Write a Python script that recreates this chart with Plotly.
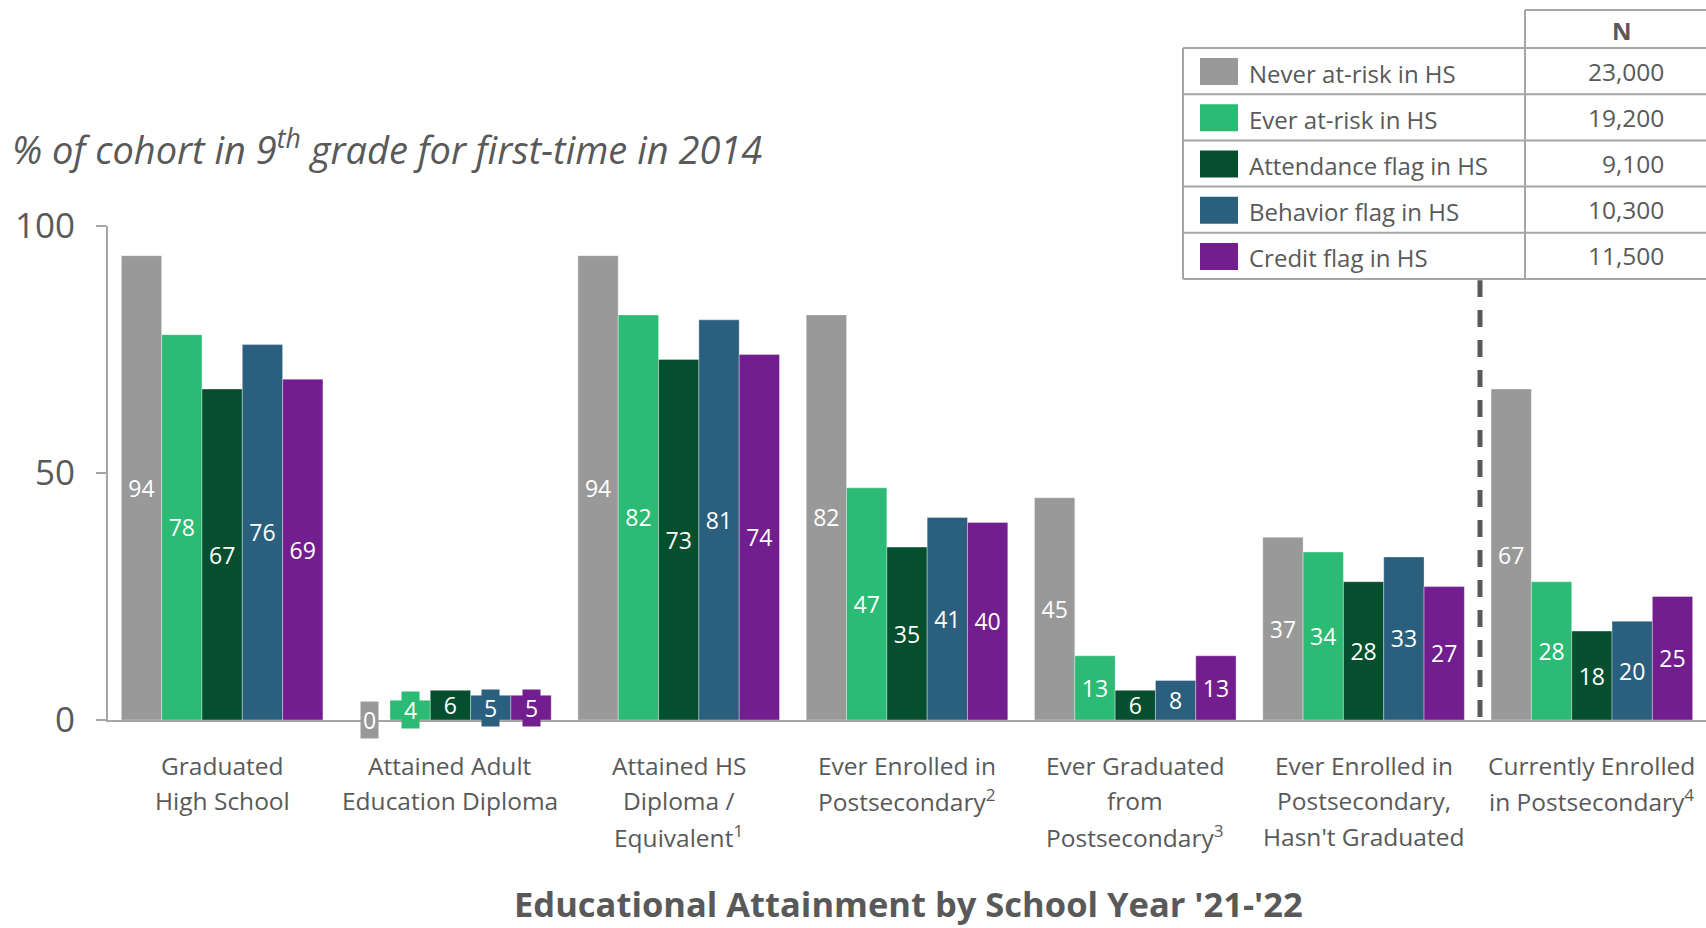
import plotly.graph_objects as go

# ---- data -------------------------------------------------------------
categories = [
    "Graduated<br>High School",
    "Attained Adult<br>Education Diploma",
    "Attained HS<br>Diploma /<br>Equivalent<sup>1</sup>",
    "Ever Enrolled in<br>Postsecondary<sup>2</sup>",
    "Ever Graduated<br>from<br>Postsecondary<sup>3</sup>",
    "Ever Enrolled in<br>Postsecondary,<br>Hasn't Graduated",
    "Currently Enrolled<br>in Postsecondary<sup>4</sup>",
]

series_names = [
    "Never at-risk in HS",
    "Ever at-risk in HS",
    "Attendance flag in HS",
    "Behavior flag in HS",
    "Credit flag in HS",
]

never_at_risk = [94, 0, 94, 82, 45, 37, 67]
ever_at_risk = [78, 4, 82, 47, 13, 34, 28]
attendance_flag = [67, 6, 73, 35, 6, 28, 18]
behavior_flag = [76, 5, 81, 41, 8, 33, 20]
credit_flag = [69, 5, 74, 40, 13, 27, 25]

series_n = ["23,000", "19,200", "9,100", "10,300", "11,500"]

y_ticks = [0, 50, 100]

colors = ["#999999", "#2bbb74", "#064f2e", "#2a5f7e", "#731e8e"]

# ---- layout constants -------------------------------------------------
W, H = 1706, 928
ML, MR, MT, MB = 108, 0, 226, 208
PLOT_W = W - ML - MR
PLOT_H = H - MT - MB

FONT = "Open Sans"
TEXT = "#595959"
GRID = "#a6a6a6"
BARGAP = 0.117


def px_x(px):
    return (px - ML) / PLOT_W


def px_y(py):
    return (H - MB - py) / PLOT_H


fig = go.Figure()

all_series = [never_at_risk, ever_at_risk, attendance_flag, behavior_flag, credit_flag]
n_series = len(all_series)
bar_w = (1 - BARGAP) / n_series
xs = list(range(len(categories)))

annotations = []
for i, (name, vals, color) in enumerate(zip(series_names, all_series, colors)):
    # very short bars carry their label in a coloured box instead
    fig.add_bar(
        x=xs,
        y=vals,
        name=name,
        marker=dict(color=color, line=dict(width=1, color="rgba(255,255,255,0.35)")),
        text=[str(v) if v > 5 else None for v in vals],
        textposition="inside",
        insidetextanchor="middle",
        textangle=0,
        textfont=dict(color="white", size=23, family=FONT),
        showlegend=False,
        hoverinfo="skip",
    )
    for j, v in enumerate(vals):
        if v <= 5:
            annotations.append(dict(
                x=j + (i - (n_series - 1) / 2) * bar_w,
                y=v / 2,
                xref="x", yref="y",
                text=str(v),
                showarrow=False,
                font=dict(color="white", size=23, family=FONT),
                bgcolor=color,
                borderpad=2,
            ))

# category labels, one line at a time for even line spacing
LINE_Y0, LINE_DY = 765, 35.5
for j, label in enumerate(categories):
    for k, line in enumerate(label.split("<br>")):
        annotations.append(dict(
            x=j, y=px_y(LINE_Y0 + k * LINE_DY), xref="x", yref="paper",
            text=line, showarrow=False, xanchor="center", yanchor="middle",
            font=dict(color=TEXT, size=24.5, family=FONT),
        ))

shapes = []

# dashed separator before the last category
shapes.append(dict(
    type="line", xref="x", yref="y",
    x0=5.51, x1=5.51, y0=0.6, y1=89,
    line=dict(color=TEXT, width=5, dash="17px,13px"),
))

# ---- legend table -----------------------------------------------------
T_LEFT, T_DIV, T_RIGHT = 1183, 1525, W
ROW_TOP, ROW_H = 48, 46.2
HEAD_TOP = 10
n_rows = len(series_names)

for r in range(n_rows + 1):
    y = ROW_TOP + r * ROW_H
    shapes.append(dict(type="line", xref="paper", yref="paper",
                       x0=px_x(T_LEFT), x1=px_x(T_RIGHT), y0=px_y(y), y1=px_y(y),
                       line=dict(color=GRID, width=2)))
shapes.append(dict(type="line", xref="paper", yref="paper",
                   x0=px_x(T_DIV), x1=px_x(T_RIGHT), y0=px_y(HEAD_TOP), y1=px_y(HEAD_TOP),
                   line=dict(color=GRID, width=2)))
shapes.append(dict(type="line", xref="paper", yref="paper",
                   x0=px_x(T_LEFT), x1=px_x(T_LEFT),
                   y0=px_y(ROW_TOP), y1=px_y(ROW_TOP + n_rows * ROW_H),
                   line=dict(color=GRID, width=2)))
shapes.append(dict(type="line", xref="paper", yref="paper",
                   x0=px_x(T_DIV), x1=px_x(T_DIV),
                   y0=px_y(HEAD_TOP), y1=px_y(ROW_TOP + n_rows * ROW_H),
                   line=dict(color=GRID, width=2)))

annotations.append(dict(
    x=px_x((T_DIV + 1718) / 2), y=px_y(30), xref="paper", yref="paper",
    text="<b>N</b>", showarrow=False, xanchor="center", yanchor="middle",
    font=dict(color=TEXT, size=24, family=FONT),
))

for r, (name, n, color) in enumerate(zip(series_names, series_n, colors)):
    cy = ROW_TOP + (r + 0.5) * ROW_H
    shapes.append(dict(type="rect", xref="paper", yref="paper",
                       x0=px_x(1200), x1=px_x(1238),
                       y0=px_y(cy - 13), y1=px_y(cy + 14),
                       fillcolor=color, line=dict(width=0)))
    annotations.append(dict(
        x=px_x(1247), y=px_y(cy + 2), xref="paper", yref="paper",
        text=name, showarrow=False, xanchor="left", yanchor="middle",
        font=dict(color=TEXT, size=24, family=FONT),
    ))
    annotations.append(dict(
        x=px_x(1666), y=px_y(cy), xref="paper", yref="paper",
        text=n, showarrow=False, xanchor="right", yanchor="middle",
        font=dict(color=TEXT, size=24.5, family=FONT),
    ))

# ---- axis caption and title -------------------------------------------
annotations.append(dict(
    x=px_x(10), y=px_y(148), xref="paper", yref="paper",
    text="<i>% of cohort in 9<sup>th</sup> grade for first-time in 2014</i>",
    showarrow=False, xanchor="left", yanchor="middle",
    font=dict(color=TEXT, size=38, family=FONT),
))
annotations.append(dict(
    x=px_x(908), y=px_y(903), xref="paper", yref="paper",
    text="<b>Educational Attainment by School Year '21-'22</b>",
    showarrow=False, xanchor="center", yanchor="middle",
    font=dict(color=TEXT, size=34.5, family=FONT),
))

fig.update_layout(
    width=W, height=H,
    margin=dict(l=ML, r=MR, t=MT, b=MB, pad=0),
    paper_bgcolor="white", plot_bgcolor="white",
    barmode="group", bargap=BARGAP, bargroupgap=0,
    uniformtext=dict(minsize=23, mode="show"),
    font=dict(family=FONT, color=TEXT),
    shapes=shapes,
    annotations=annotations,
    xaxis=dict(
        range=[-0.5, 6.5],
        showline=True, linecolor=GRID, linewidth=2,
        ticks="", showgrid=False, zeroline=False,
        showticklabels=False,
        fixedrange=True,
    ),
    yaxis=dict(
        range=[0, 100],
        tickvals=y_ticks,
        showline=True, linecolor=GRID, linewidth=2,
        ticks="outside", ticklen=10, tickwidth=2, tickcolor=GRID,
        showgrid=False, zeroline=False,
        tickfont=dict(size=35, color=TEXT, family=FONT),
        ticklabelstandoff=14,
        fixedrange=True,
    ),
)

fig.write_html("out.html")
